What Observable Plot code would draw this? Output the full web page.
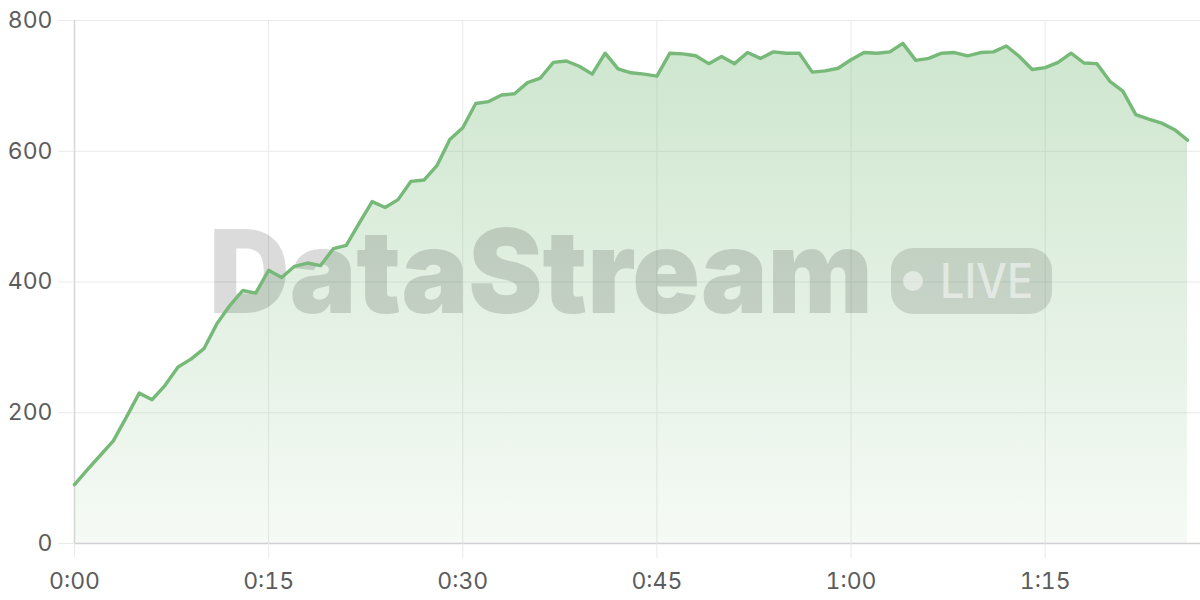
<!DOCTYPE html>
<html><head><meta charset="utf-8">
<script src="https://cdn.jsdelivr.net/npm/d3@7"></script>
<script src="https://cdn.jsdelivr.net/npm/@observablehq/plot@0.6"></script>
<style>
html,body{margin:0;padding:0;background:#fff;}
#chart svg{display:block;}
</style></head><body><div id="chart"></div>
<script>
// values per minute, starting at 0:00
const values = [
  90, 113, 135, 157, 193, 230, 220, 242, 270, 282,
  298, 336, 364, 387, 383, 418, 407, 424, 429, 425,
  451, 456, 490, 523, 514, 526, 554, 556, 578, 618,
  636, 673, 676, 686, 688, 705, 712, 736, 738, 730,
  718, 750, 726, 720, 718, 715, 750, 749, 746, 734,
  745, 734, 751, 742, 752, 750, 750, 721, 723, 727,
  740, 751, 750, 752, 765, 739, 742, 750, 751, 746,
  751, 752, 761, 745, 725, 728, 736, 750, 735, 734,
  707, 692, 656, 649, 643, 633, 617
];
const xTicks = [0, 15, 30, 45, 60, 75];
const yTicks = [0, 200, 400, 600, 800];
const watermarkText = "DataStream";
const badgeText = "LIVE";

const data = values.map((v, i) => ({t: i, v}));
const fmt = d => `${Math.floor(d / 60)}:${String(d % 60).padStart(2, "0")}`;

const defs = () => {
  const d = d3.create("svg:defs");
  const g = d.append("linearGradient").attr("id", "areaGrad")
    .attr("x1", 0).attr("y1", 0).attr("x2", 0).attr("y2", 1);
  g.append("stop").attr("offset", "0%").attr("stop-color", "#77b978").attr("stop-opacity", 0.36);
  g.append("stop").attr("offset", "100%").attr("stop-color", "#77b978").attr("stop-opacity", 0.07);
  return d.node();
};

const watermark = () => {
  const g = d3.create("svg:g").attr("pointer-events", "none").attr("text-anchor", "start");
  g.append("text")
    .attr("x", 209).attr("y", 313)
    .attr("text-anchor", "start")
    .attr("font-family", "Inter, sans-serif")
    .attr("font-weight", 900)
    .attr("font-size", 116)
    .attr("textLength", 664)
    .attr("lengthAdjust", "spacingAndGlyphs")
    .attr("fill", "#000").attr("fill-opacity", 0.14)
    .text(watermarkText);
  g.append("rect")
    .attr("x", 891).attr("y", 248).attr("width", 161).attr("height", 66)
    .attr("rx", 22)
    .attr("fill", "#000").attr("fill-opacity", 0.12);
  g.append("circle")
    .attr("cx", 913).attr("cy", 281).attr("r", 10)
    .attr("fill", "#fff").attr("fill-opacity", 0.5);
  g.append("text")
    .attr("x", 940).attr("y", 298)
    .attr("text-anchor", "start")
    .attr("font-family", "Inter, sans-serif")
    .attr("font-weight", 500)
    .attr("font-size", 48)
    .attr("textLength", 93)
    .attr("lengthAdjust", "spacingAndGlyphs")
    .attr("fill", "#fff").attr("fill-opacity", 0.5)
    .text(badgeText);
  return g.node();
};

const chart = Plot.plot({
  width: 1200, height: 600,
  marginLeft: 74, marginRight: 0, marginTop: 20, marginBottom: 57,
  style: {fontFamily: "Inter, sans-serif", fontSize: "23px", color: "#5c5c5c", background: "#fff"},
  x: {domain: [0, 87], label: null},
  y: {domain: [0, 800], label: null},
  marks: [
    defs,
    Plot.gridY(yTicks, {stroke: "#e9e9e9", strokeOpacity: 1}),
    Plot.gridX(xTicks, {stroke: "#e9e9e9", strokeOpacity: 1}),
    Plot.areaY(data, {x: "t", y: "v", fill: "url(#areaGrad)"}),
    watermark,
    Plot.ruleX([0], {stroke: "#d6d6d6", strokeWidth: 1.5}),
    Plot.ruleY([0], {stroke: "#d0d0d0", strokeWidth: 1.5}),
    Plot.lineY(data, {x: "t", y: "v", stroke: "#77b978", strokeWidth: 3.4, strokeLinejoin: "round"}),
    Plot.axisY(yTicks, {tickSize: 16, tickPadding: 6, stroke: "#e9e9e9", strokeOpacity: 1, fill: "#5c5c5c", label: null}),
    Plot.axisX(xTicks, {tickSize: 15, tickPadding: 14, stroke: "#e9e9e9", strokeOpacity: 1, fill: "#5c5c5c", tickFormat: fmt, label: null})
  ]
});
document.getElementById("chart").append(chart);
</script>
</body></html>
